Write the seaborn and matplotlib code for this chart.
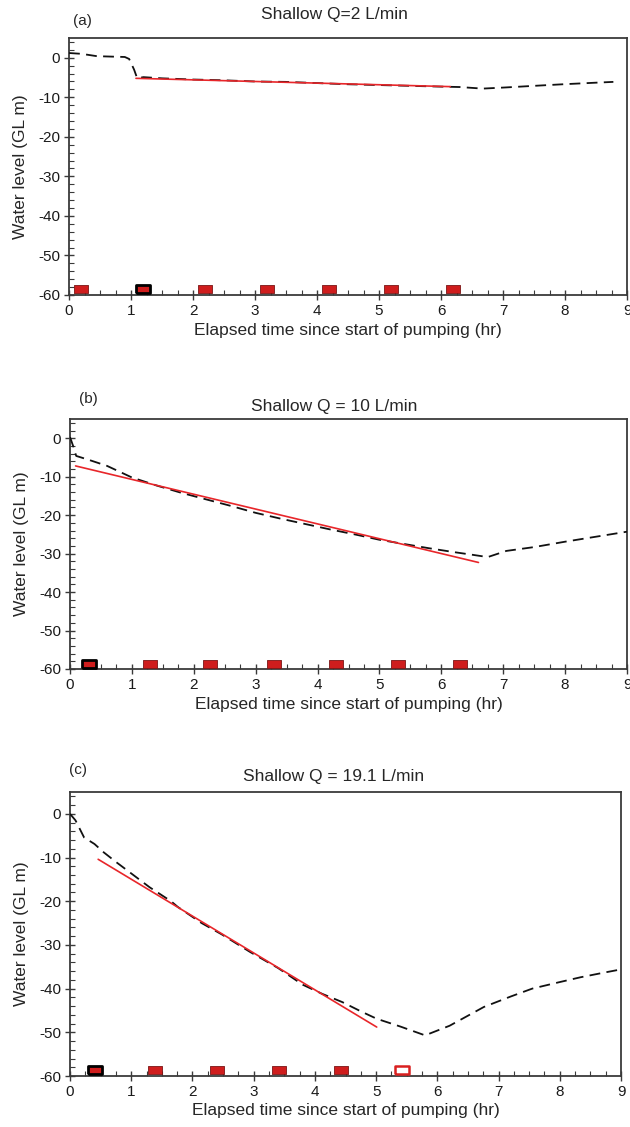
import matplotlib
matplotlib.use("Agg")
import matplotlib.pyplot as plt
from matplotlib.ticker import MultipleLocator
import pandas as pd
import seaborn as sns

# ---- Panel (a): Shallow Q = 2 L/min ----
a_time = [0.0, 0.2, 0.45, 0.9, 0.97, 1.05, 1.1, 1.2, 1.5, 2.0, 2.5, 3.0, 3.5, 4.0,
          4.5, 5.0, 5.5, 6.0, 6.3, 6.67, 7.05, 7.5, 7.97, 8.5, 8.78]
a_level = [1.2, 1.0, 0.4, 0.2, -0.3, -3.0, -5.2, -4.9, -5.2, -5.5, -5.7, -6.0, -6.1, -6.4,
           -6.7, -6.9, -7.1, -7.3, -7.4, -7.8, -7.5, -7.1, -6.7, -6.3, -6.1]
a_fit_time = [1.08, 6.15]
a_fit_level = [-5.2, -7.3]
a_mark_time = [0.2, 1.2, 2.2, 3.2, 4.2, 5.2, 6.2]
a_mark_kind = ["sample", "start", "sample", "sample", "sample", "sample", "sample"]

# ---- Panel (b): Shallow Q = 10 L/min ----
b_time = [0.0, 0.05, 0.1, 0.3, 0.6, 1.0, 1.4, 1.8, 2.2, 2.6, 3.0, 3.4, 3.8, 4.2, 4.6,
          5.0, 5.4, 5.8, 6.2, 6.5, 6.75, 7.05, 7.5, 8.0, 8.5, 9.0]
b_level = [0.3, -2.0, -4.6, -5.6, -7.2, -10.2, -12.3, -14.2, -15.9, -17.6, -19.4, -20.9,
           -22.3, -23.7, -25.0, -26.4, -27.5, -28.6, -29.6, -30.3, -30.9, -29.3, -28.3,
           -26.9, -25.6, -24.3]
b_fit_time = [0.09, 6.6]
b_fit_level = [-7.2, -32.3]
b_mark_time = [0.3, 1.3, 2.27, 3.3, 4.3, 5.3, 6.3]
b_mark_kind = ["start", "sample", "sample", "sample", "sample", "sample", "sample"]

# ---- Panel (c): Shallow Q = 19.1 L/min ----
c_time = [0.0, 0.09, 0.23, 0.4, 0.55, 0.75, 0.94, 1.3, 1.65, 1.76, 2.15, 2.48, 2.94,
          3.4, 3.8, 4.12, 4.45, 4.75, 5.01, 5.4, 5.8, 6.2, 6.76, 7.2, 7.55, 8.0, 8.34,
          8.7, 9.0]
c_level = [0.0, -1.5, -5.4, -6.9, -8.8, -11.0, -13.0, -16.8, -20.0, -21.3, -25.0, -27.6,
           -31.6, -35.3, -39.1, -41.2, -43.1, -45.2, -46.9, -48.7, -50.7, -48.5, -44.2,
           -41.8, -40.0, -38.5, -37.4, -36.4, -35.6]
c_fit_time = [0.46, 5.01]
c_fit_level = [-10.4, -48.8]
c_mark_time = [0.41, 1.39, 2.4, 3.42, 4.42, 5.42]
c_mark_kind = ["start", "sample", "sample", "sample", "sample", "open"]

titles = ["Shallow Q=2 L/min", "Shallow Q = 10 L/min", "Shallow Q = 19.1 L/min"]
panel_tags = ["(a)", "(b)", "(c)"]
x_ticks = list(range(0, 10))
y_ticks = list(range(-60, 10, 10))
MARK_LEVEL = -58.6

sns.set_theme(style="ticks")
plt.rcParams["font.family"] = ["Liberation Sans", "DejaVu Sans"]
plt.rcParams["axes.unicode_minus"] = False
plt.rcParams["axes.edgecolor"] = "#3a3a3a"
plt.rcParams["axes.linewidth"] = 1.3
plt.rcParams["xtick.color"] = "#3a3a3a"
plt.rcParams["ytick.color"] = "#3a3a3a"
plt.rcParams["xtick.labelcolor"] = "#1a1a1a"
plt.rcParams["ytick.labelcolor"] = "#1a1a1a"

W, H = 630, 1127
fig = plt.figure(figsize=(W / 100, H / 100), dpi=100)

# pixel boxes: left, top, right, bottom
boxes = [(69, 38, 627, 295), (70, 419, 627, 669), (70, 792, 621, 1076)]
title_y = [15, 406, 776]
title_x = 334
tag_xy = [(73, 21), (79, 399), (69, 770)]
xlabel_y = [330, 704, 1110]

series = [
    (a_time, a_level, a_fit_time, a_fit_level, a_mark_time, a_mark_kind),
    (b_time, b_level, b_fit_time, b_fit_level, b_mark_time, b_mark_kind),
    (c_time, c_level, c_fit_time, c_fit_level, c_mark_time, c_mark_kind),
]

rect = [(-1, -0.6), (1, -0.6), (1, 0.6), (-1, 0.6), (-1, -0.6)]
mark_styles = {
    "sample": dict(facecolor="#cf1d1d", edgecolor="#7a1515", linewidth=0.6),
    "start": dict(facecolor="#cf1d1d", edgecolor="#000000", linewidth=2.0),
    "open": dict(facecolor="#ffffff", edgecolor="#d92020", linewidth=1.8),
}

for i, (t, lvl, ft, fl, mt, mk) in enumerate(series):
    l, tp, r, b = boxes[i]
    ax = fig.add_axes([l / W, 1 - b / H, (r - l) / W, (b - tp) / H])

    obs = pd.DataFrame({"time": t, "level": lvl})
    fit = pd.DataFrame({"time": ft, "level": fl})
    marks = pd.DataFrame({"time": mt, "kind": mk})
    marks["level"] = MARK_LEVEL

    sns.lineplot(data=obs, x="time", y="level", ax=ax, sort=False, estimator=None,
                 color="#111111", linewidth=1.3, linestyle=(0, (6, 3.5)), zorder=3)
    sns.lineplot(data=fit, x="time", y="level", ax=ax, sort=False, estimator=None,
                 color="#e8262a", linewidth=1.2, zorder=4)
    for kind, sub in marks.groupby("kind"):
        sns.scatterplot(data=sub, x="time", y="level", ax=ax, marker=rect, s=115,
                        zorder=5, clip_on=False, **mark_styles[kind])

    ax.set_xlim(0, 9)
    ax.set_ylim(-60, 5)
    ax.set_xticks(x_ticks)
    ax.set_yticks(y_ticks)
    ax.xaxis.set_minor_locator(MultipleLocator(0.25))
    ax.yaxis.set_minor_locator(MultipleLocator(2))
    ax.tick_params(which="major", direction="inout", length=7, width=1.0,
                   labelsize=11, pad=3)
    ax.tick_params(which="minor", direction="in", length=3.5, width=0.8)
    ax.set_xlabel("")
    ax.set_ylabel("Water level (GL m)", fontsize=12.5, labelpad=7)
    for s in ax.spines.values():
        s.set_visible(True)

    cx = (l + r) / 2
    fig.text(title_x / W, 1 - title_y[i] / H, titles[i], ha="center", va="center",
             fontsize=12.5)
    fig.text(tag_xy[i][0] / W, 1 - tag_xy[i][1] / H, panel_tags[i], ha="left",
             va="center", fontsize=11)
    fig.text(cx / W, 1 - xlabel_y[i] / H, "Elapsed time since start of pumping (hr)",
             ha="center", va="center", fontsize=12.5)

fig.savefig("out.png", dpi=100)
